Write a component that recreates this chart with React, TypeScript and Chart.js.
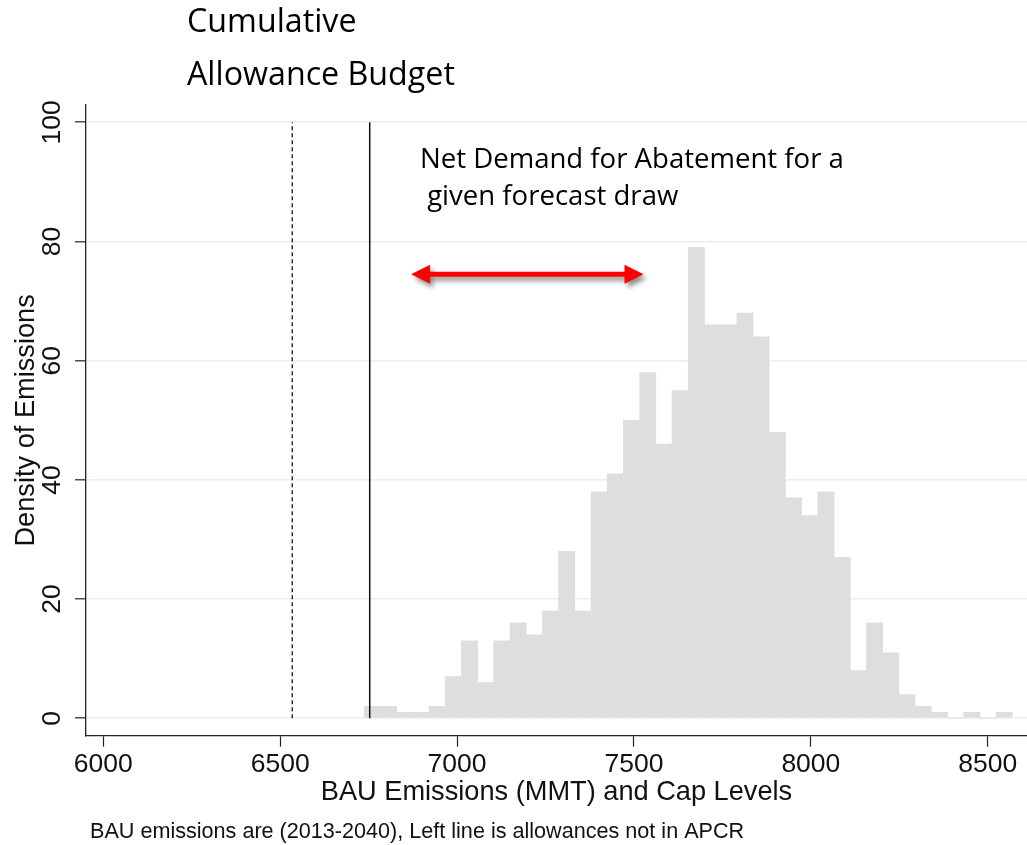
import React, { useEffect, useRef } from "react";
import { Chart, registerables } from "chart.js";

Chart.register(...registerables);

// Histogram bins (centre of each bin, MMT) and their heights
const binCenters = [
  6760.3, 6806.1, 6851.9, 6897.7, 6943.5, 6989.3, 7035.1, 7080.9, 7126.7, 7172.5,
  7218.3, 7264.1, 7309.9, 7355.7, 7401.5, 7447.3, 7493.1, 7538.9, 7584.7, 7630.5,
  7676.3, 7722.1, 7767.9, 7813.7, 7859.5, 7905.3, 7951.1, 7996.9, 8042.7, 8088.5,
  8134.3, 8180.1, 8225.9, 8271.7, 8317.5, 8363.3, 8409.1, 8454.9, 8500.7, 8546.5,
];
const densities = [
  2, 2, 1, 1, 2, 7, 13, 6, 13, 16,
  14, 18, 28, 18, 38, 41, 50, 58, 46, 55,
  79, 66, 66, 68, 64, 48, 37, 34, 38, 27,
  8, 16, 11, 4, 2, 1, 0, 1, 0, 1,
];

const xTickValues = [6000, 6500, 7000, 7500, 8000, 8500];
const yTickValues = [0, 20, 40, 60, 80, 100];
const xRange = [5951, 8611];
const yRange = [-2.92, 102.9];

// Cap levels (vertical lines)
const allowancesNotInApcr = [6534]; // dashed
const capLevel = [6753]; // solid
const lineSpan = [0, 100];

// Net-demand arrow
const arrowSpan = [6870, 7527];
const arrowLevel = [74.5];

const topTitleLines = ["Cumulative", "Allowance Budget"];
const annotationLines = ["Net Demand for Abatement for a", " given forecast draw"];
const xTitle = "BAU Emissions (MMT) and Cap Levels";
const yTitle = "Density of Emissions";
const footnote = "BAU emissions are (2013-2040), Left line is allowances not in APCR";

function fitFont(ctx: CanvasRenderingContext2D, text: string, family: string, width: number) {
  ctx.font = `100px ${family}`;
  const w = ctx.measureText(text).width;
  const size = (100 * width) / w;
  ctx.font = `${size}px ${family}`;
}

const annotationPlugin = {
  id: "annotations",
  afterDraw(chart: any) {
    const { ctx } = chart;
    const xs = chart.scales.x;
    const ys = chart.scales.y;

    // red double arrow
    const x1 = xs.getPixelForValue(arrowSpan[0]);
    const x2 = xs.getPixelForValue(arrowSpan[1]);
    const y = ys.getPixelForValue(arrowLevel[0]);
    const head = 19;
    const half = 9.6;
    const shaft = 2.4;
    ctx.save();
    ctx.shadowColor = "rgba(0,0,0,0.45)";
    ctx.shadowBlur = 5;
    ctx.shadowOffsetX = 3;
    ctx.shadowOffsetY = 4;
    ctx.fillStyle = "#ff0000";
    ctx.beginPath();
    ctx.moveTo(x1, y);
    ctx.lineTo(x1 + head, y - half);
    ctx.lineTo(x1 + head, y - shaft);
    ctx.lineTo(x2 - head, y - shaft);
    ctx.lineTo(x2 - head, y - half);
    ctx.lineTo(x2, y);
    ctx.lineTo(x2 - head, y + half);
    ctx.lineTo(x2 - head, y + shaft);
    ctx.lineTo(x1 + head, y + shaft);
    ctx.lineTo(x1 + head, y + half);
    ctx.closePath();
    ctx.fill();
    ctx.restore();

    ctx.save();
    ctx.fillStyle = "#000";
    ctx.textAlign = "left";
    ctx.textBaseline = "alphabetic";
    const fam = "'Open Sans'";
    fitFont(ctx, topTitleLines[1], fam, 268);
    ctx.fillText(topTitleLines[0], 187, 31.7);
    ctx.fillText(topTitleLines[1], 187, 85);

    fitFont(ctx, annotationLines[0], fam, 424);
    ctx.fillText(annotationLines[0], 420, 168);
    ctx.fillText(annotationLines[1], 420, 205);

    ctx.font = "21.6px 'Liberation Sans'";
    ctx.fillStyle = "#111";
    ctx.fillText(footnote, 90, 838);
    ctx.restore();
  },
};

export default function App() {
  const canvasRef = useRef<HTMLCanvasElement | null>(null);

  useEffect(() => {
    if (!canvasRef.current) return;
    const tickFont = { family: "'Liberation Sans', Arial, sans-serif", size: 26.5 };
    const titleFont = { family: "'Liberation Sans', Arial, sans-serif", size: 27.2 };
    const chart = new Chart(canvasRef.current, {
      type: "bar",
      data: {
        datasets: [
          {
            type: "line",
            data: lineSpan.map((v) => ({ x: allowancesNotInApcr[0], y: v })),
            borderColor: "#111",
            borderWidth: 1.3,
            borderDash: [4, 3],
            pointRadius: 0,
            order: 0,
          } as any,
          {
            type: "line",
            data: lineSpan.map((v) => ({ x: capLevel[0], y: v })),
            borderColor: "#111",
            borderWidth: 1.5,
            pointRadius: 0,
            order: 0,
          } as any,
          {
            type: "bar",
            data: binCenters.map((x, i) => ({ x, y: densities[i] })),
            backgroundColor: "#dedede",
            borderWidth: 0,
            barPercentage: 1,
            categoryPercentage: 1,
            order: 1,
          } as any,
        ],
      },
      options: {
        animation: false,
        responsive: false,
        maintainAspectRatio: false,
        layout: { padding: { top: 105, left: 0, right: 0, bottom: 0 } },
        plugins: {
          legend: { display: false },
          tooltip: { enabled: false },
        },
        scales: {
          x: {
            type: "linear",
            min: xRange[0],
            max: xRange[1],
            offset: false,
            afterBuildTicks: (s: any) => {
              s.ticks = xTickValues.map((value) => ({ value }));
            },
            afterFit: (s: any) => {
              s.height = 109.3;
            },
            grid: {
              display: true,
              drawOnChartArea: false,
              drawTicks: true,
              tickLength: 11,
              tickColor: "#222",
              tickWidth: 1.2,
              offset: false,
            },
            border: { display: true, color: "#222", width: 1.3 },
            ticks: {
              autoSkip: false,
              maxRotation: 0,
              minRotation: 0,
              padding: 2,
              color: "#111",
              font: tickFont,
              callback: (v: any) => String(v),
            },
            title: {
              display: true,
              text: xTitle,
              color: "#111",
              font: titleFont,
              padding: { top: 0, bottom: 36.5 },
            },
          },
          y: {
            type: "linear",
            min: yRange[0],
            max: yRange[1],
            afterBuildTicks: (s: any) => {
              s.ticks = yTickValues.map((value) => ({ value }));
            },
            afterFit: (s: any) => {
              s.width = 86;
            },
            grid: {
              display: true,
              drawOnChartArea: true,
              drawTicks: true,
              tickLength: 11,
              color: "#e8f0f3",
              lineWidth: 1.6,
              tickColor: "#222",
              tickWidth: 1.2,
            },
            border: { display: true, color: "#222", width: 1.3 },
            ticks: {
              autoSkip: false,
              minRotation: 90,
              maxRotation: 90,
              crossAlign: "center",
              padding: 0,
              color: "#111",
              font: tickFont,
              callback: (v: any) => String(v),
            },
            title: {
              display: true,
              text: yTitle,
              color: "#111",
              font: titleFont,
              padding: { top: 10, bottom: 0 },
            },
          },
        },
      } as any,
      plugins: [annotationPlugin],
    });
    return () => chart.destroy();
  }, []);

  return (
    <div style={{ position: "fixed", left: 0, top: 0, width: 1027, height: 845, background: "#fff" }}>
      <canvas ref={canvasRef} width={1027} height={845} style={{ display: "block" }} />
    </div>
  );
}
